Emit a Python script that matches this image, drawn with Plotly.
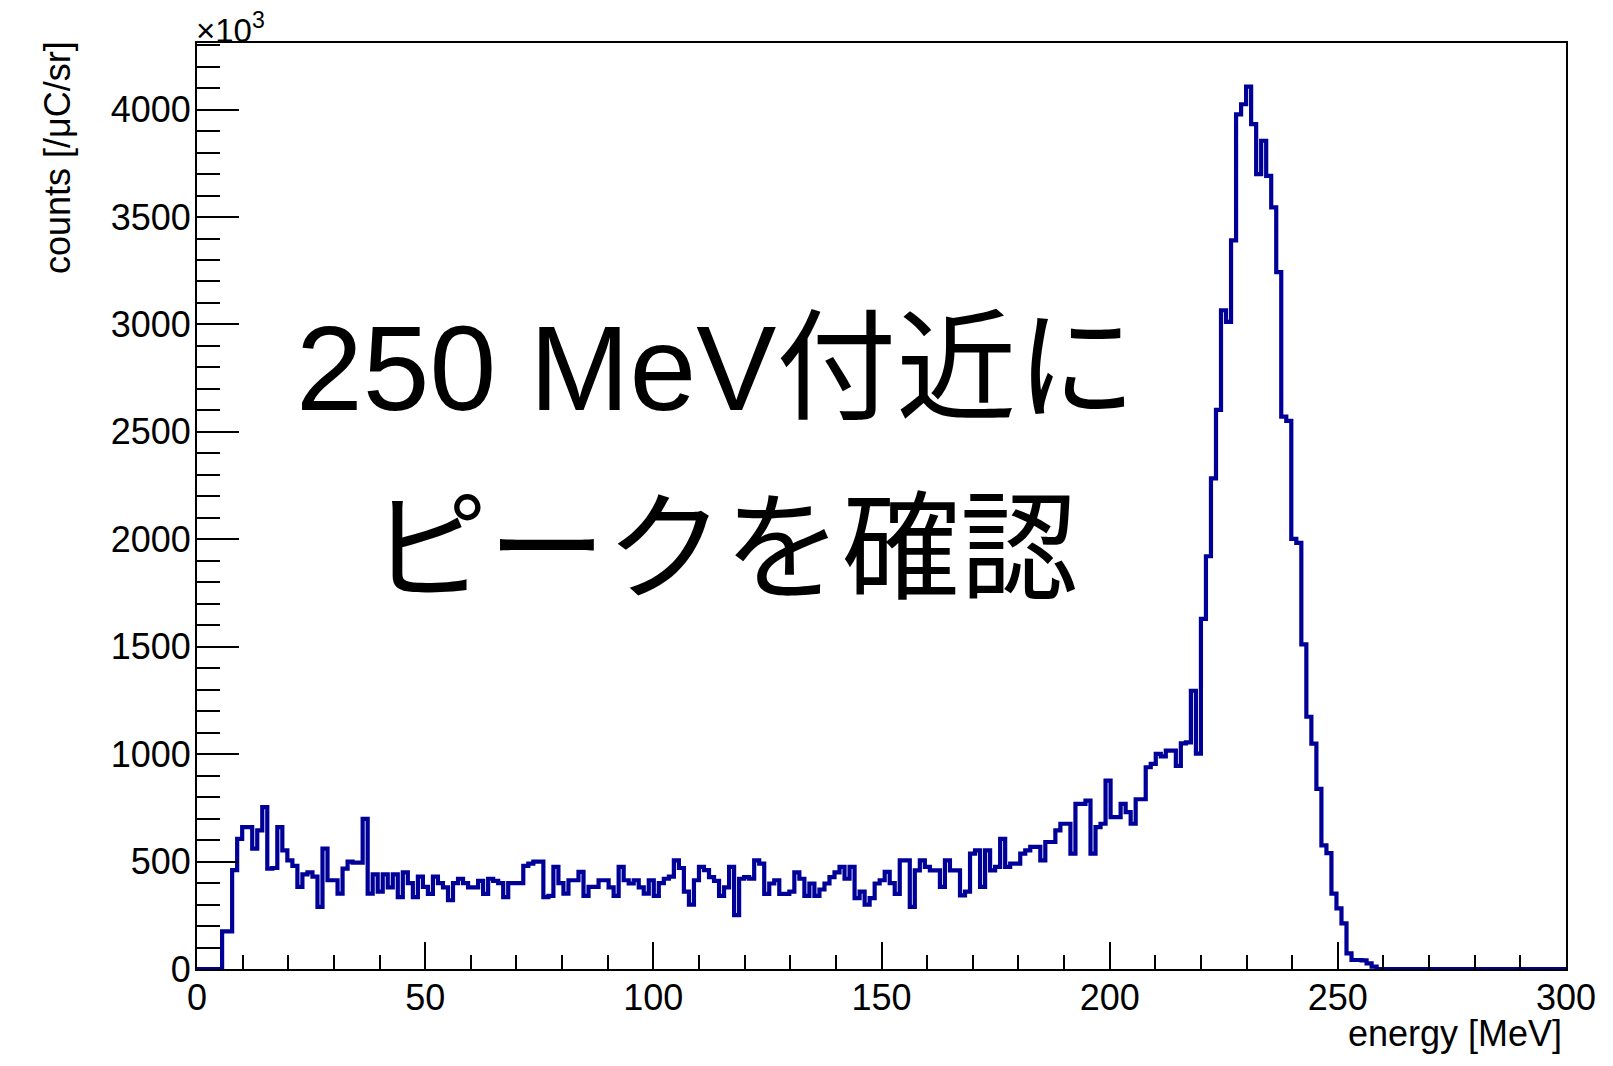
import numpy as np
import plotly.graph_objects as go

# Energy spectrum: counts per bin (units of 10^3 /uC/sr), bins of 1.1 MeV from 0 MeV
BIN_WIDTH_MEV = 1.1
counts = [
    0, 0, 0, 0, 0, 175, 175, 460, 606, 660,
    660, 560, 645, 753, 467, 470, 660, 552, 506, 480,
    382, 440, 450, 430, 289, 560, 413, 413, 351, 467,
    500, 495, 495, 699, 351, 440, 360, 440, 380, 440,
    335, 450, 400, 335, 430, 382, 350, 430, 400, 380,
    320, 400, 420, 400, 380, 380, 410, 350, 420, 410,
    400, 335, 400, 400, 400, 480, 490, 500, 500, 335,
    340, 475, 400, 351, 413, 413, 452, 340, 382, 382,
    413, 413, 380, 340, 475, 413, 398, 413, 380, 351,
    413, 340, 400, 420, 430, 506, 470, 360, 300, 413,
    475, 460, 428, 410, 340, 380, 475, 251, 420, 428,
    420, 506, 490, 350, 398, 413, 350, 350, 360, 450,
    420, 340, 398, 340, 370, 398, 428, 450, 475, 420,
    475, 330, 360, 300, 330, 398, 413, 452, 400, 350,
    506, 506, 289, 459, 506, 475, 459, 459, 382, 506,
    459, 459, 343, 360, 537, 552, 382, 552, 459, 475,
    606, 475, 490, 490, 537, 552, 568, 568, 506, 591,
    591, 645, 676, 676, 537, 769, 769, 784, 537, 660,
    676, 877, 707, 707, 769, 730, 676, 790, 790, 939,
    955, 1001, 990, 1016, 1016, 945, 1050, 1055, 1295, 1002,
    1630, 1921, 2284, 2602, 3066, 3012, 3391, 3978, 4025, 4107,
    3932, 3700, 3855, 3692, 3545, 3244, 2571, 2551, 2002, 1983,
    1511, 1174, 1049, 838, 575, 539, 351, 282, 212, 73,
    42, 42, 40, 26, 11, 0, 0, 0, 0, 0,
    0, 0, 0, 0, 0, 0, 0, 0, 0, 0,
    0, 0, 0, 0, 0, 0, 0, 0, 0, 0,
    0, 0, 0, 0, 0, 0, 0, 0, 0, 0,
    0, 0, 0,
]

x_tick_vals = [0, 50, 100, 150, 200, 250, 300]
x_tick_text = ["0", "50", "100", "150", "200", "250", "300"]
y_tick_vals = [0, 500, 1000, 1500, 2000, 2500, 3000, 3500, 4000]
y_tick_text = ["0", "500", "1000", "1500", "2000", "2500", "3000", "3500", "4000"]

x_title = "energy [MeV]"
y_title = "counts [/μC/sr]"
exponent_label = "×10<sup>3</sup>"
note_line1 = "250 MeV付近に"
note_line2 = "ピークを確認"

X_RANGE = [0, 300]
Y_RANGE = [0, 4310]

# page geometry (pixels)
W, H = 1613, 1066
L, R, T, B = 197, 47, 43, 97
plot_w = W - L - R
plot_h = H - T - B


def px_x(px):
    return (px - L) / plot_w


def px_y(py):
    return (H - B - py) / plot_h


# step outline built from bin edges
edges = np.arange(len(counts) + 1) * BIN_WIDTH_MEV
xs = list(edges)
ys = list(counts) + [counts[-1]]

LINE_BLUE = "#000099"
FONT = "Liberation Sans, Arial, Helvetica, sans-serif"
CJK_FONT = "Liberation Sans, Noto Sans CJK JP, sans-serif"
LABEL_SIZE = 36

fig = go.Figure()
fig.add_trace(go.Scatter(
    x=xs, y=ys, mode="lines", line=dict(color=LINE_BLUE, width=4.2, shape="hv"),
    hoverinfo="skip", showlegend=False,
))

axis_common = dict(
    showgrid=False, zeroline=False, showline=True, linecolor="black", linewidth=2,
    mirror=True, ticks="inside", tickcolor="black", tickwidth=1.5,
    tickfont=dict(family=FONT, size=LABEL_SIZE, color="black"),
)

fig.update_xaxes(
    range=X_RANGE, tickmode="array", tickvals=x_tick_vals, ticktext=x_tick_text,
    ticklen=27, ticklabelstandoff=-4,
    minor=dict(dtick=10, tick0=0, ticks="inside", ticklen=14, tickcolor="black", tickwidth=1.5),
    **axis_common,
)
fig.update_yaxes(
    range=Y_RANGE, tickmode="array", tickvals=y_tick_vals, ticktext=y_tick_text,
    ticklen=42, ticklabelstandoff=-3,
    minor=dict(dtick=100, tick0=0, ticks="inside", ticklen=23, tickcolor="black", tickwidth=1.5),
    **axis_common,
)

annotations = [
    dict(text=x_title, x=px_x(1564), y=px_y(1033), xanchor="right", yanchor="middle",
         font=dict(family=FONT, size=LABEL_SIZE, color="black")),
    dict(text=y_title, x=px_x(57), y=px_y(158), xanchor="center", yanchor="middle",
         textangle=-90, font=dict(family=FONT, size=LABEL_SIZE, color="black")),
    dict(text=exponent_label, x=px_x(194), y=px_y(28), xanchor="left", yanchor="middle",
         font=dict(family=FONT, size=33, color="black")),
    dict(text=note_line1, x=px_x(716), y=px_y(368), xanchor="center", yanchor="middle",
         font=dict(family=CJK_FONT, size=120, color="black")),
    dict(text=note_line2, x=px_x(724), y=px_y(549), xanchor="center", yanchor="middle",
         font=dict(family=CJK_FONT, size=118, color="black")),
]
for a in annotations:
    a.update(xref="paper", yref="paper", showarrow=False)

fig.update_layout(
    width=W, height=H, autosize=False,
    margin=dict(l=L, r=R, t=T, b=B, pad=0),
    paper_bgcolor="white", plot_bgcolor="white",
    annotations=annotations,
    showlegend=False,
)

fig.write_html("out.html")
